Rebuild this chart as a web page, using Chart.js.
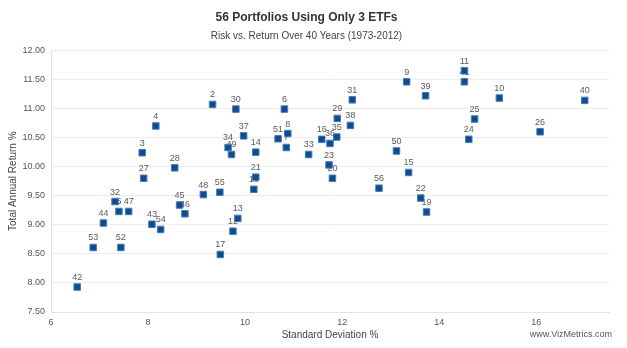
<!DOCTYPE html>
<html>
<head>
<meta charset="utf-8">
<script src="https://cdn.jsdelivr.net/npm/chart.js@4"></script>
<style>
    html, body { margin: 0; padding: 0; background: #fff; }
    #wrap { width: 627px; height: 348px; }
</style>
</head>
<body>
<div id="wrap"><canvas id="riskChart" width="627" height="348"></canvas></div>
<script>
// portfolio numbers, std deviation (x) and annual return (y)
const portfolioIds = [2, 3, 4, 5, 6, 7, 8, 9, 10, 11, 12, 13, 14, 15, 16, 17, 18, 19, 20, 21,
    22, 23, 24, 25, 26, 27, 28, 29, 30, 31, 32, 33, 34, 35, 36, 37, 38, 39, 40, 41,
    42, 43, 44, 45, 46, 47, 48, 49, 50, 51, 52, 53, 54, 55, 56];
const stdDevs = [9.33, 7.88, 8.16, 7.40, 10.81, 10.85, 10.88, 13.33, 15.24, 14.52, 9.75, 9.85, 10.22, 13.37, 11.58, 9.49, 10.18, 13.74, 11.80, 10.22,
    13.62, 11.73, 14.61, 14.73, 16.08, 7.91, 8.55, 11.90, 9.81, 12.21, 7.32, 11.31, 9.65, 11.89, 11.75, 9.97, 12.17, 13.72, 17.00, 14.52,
    6.54, 8.08, 7.08, 8.65, 8.76, 7.60, 9.14, 9.72, 13.12, 10.68, 7.44, 6.87, 8.26, 9.48, 12.76];
const annualReturns = [11.07, 10.24, 10.70, 9.23, 10.99, 10.33, 10.57, 11.46, 11.18, 11.65, 8.89, 9.11, 10.25, 9.90, 10.47, 8.49, 9.61, 9.22, 9.80, 9.82,
    9.46, 10.03, 10.47, 10.82, 10.60, 9.80, 9.98, 10.83, 10.99, 11.15, 9.40, 10.21, 10.33, 10.51, 10.40, 10.53, 10.71, 11.22, 11.14, 11.46,
    7.93, 9.01, 9.03, 9.34, 9.19, 9.23, 9.52, 10.21, 10.27, 10.48, 8.61, 8.61, 8.92, 9.56, 9.63];
const xTicks = [6, 8, 10, 12, 14, 16];

const FONT = "'Liberation Sans', Arial, sans-serif";

// number above every marker
const pointLabels = {
    id: 'pointLabels',
    beforeDatasetsDraw(chart) {
        const ctx = chart.ctx;
        const meta = chart.getDatasetMeta(0);
        ctx.save();
        ctx.font = '9px ' + FONT;
        ctx.fillStyle = '#5a5a5a';
        ctx.textAlign = 'center';
        ctx.textBaseline = 'bottom';
        meta.data.forEach((pt, i) => {
            ctx.fillText(String(portfolioIds[i]), pt.x, pt.y - 5);
        });
        ctx.restore();
    }
};

// site credit bottom right
const credit = {
    id: 'credit',
    afterDraw(chart) {
        const ctx = chart.ctx;
        ctx.save();
        ctx.font = '9px ' + FONT;
        ctx.fillStyle = '#555';
        ctx.textAlign = 'right';
        ctx.textBaseline = 'middle';
        ctx.fillText('www.VizMetrics.com', 612, 335);
        ctx.restore();
    }
};

const points = stdDevs.map((x, i) => ({ x: x, y: annualReturns[i] }));

new Chart(document.getElementById('riskChart').getContext('2d'), {
    type: 'scatter',
    data: {
        datasets: [{
            data: points,
            pointStyle: 'rect',
            pointRadius: 4.6,
            pointHoverRadius: 4.6,
            backgroundColor: '#0d4c92',
            borderColor: '#4a7bb3',
            borderWidth: 1
        }]
    },
    options: {
        responsive: false,
        animation: false,
        layout: { padding: { left: 4, right: 18, top: 4, bottom: 7 } },
        plugins: {
            legend: { display: false },
            tooltip: { enabled: false },
            title: {
                display: true,
                text: '56 Portfolios Using Only 3 ETFs',
                color: '#333',
                font: { family: FONT, size: 12, weight: 'bold' },
                padding: { top: 6, bottom: 6 }
            },
            subtitle: {
                display: true,
                text: 'Risk vs. Return Over 40 Years (1973-2012)',
                color: '#444',
                font: { family: FONT, size: 10 },
                padding: { bottom: 8 }
            }
        },
        scales: {
            x: {
                type: 'linear',
                min: 6,
                max: 17.5,
                afterBuildTicks(scale) {
                    scale.ticks = xTicks.map(v => ({ value: v }));
                },
                grid: { display: false, drawTicks: false },
                border: { color: '#e3e3e3' },
                ticks: {
                    color: '#555',
                    font: { family: FONT, size: 9 },
                    padding: 5
                },
                title: {
                    display: true,
                    text: 'Standard Deviation %',
                    color: '#444',
                    font: { family: FONT, size: 10 },
                    padding: { top: 2, bottom: 0 }
                },
                afterFit(scale) { scale.height = 29; }
            },
            y: {
                min: 7.5,
                max: 12,
                ticks: {
                    stepSize: 0.5,
                    color: '#555',
                    font: { family: FONT, size: 9 },
                    padding: 6,
                    callback: v => v.toFixed(2)
                },
                grid: { color: '#ececec', drawTicks: false },
                border: { color: '#e3e3e3' },
                title: {
                    display: true,
                    text: 'Total Annual Return %',
                    color: '#444',
                    font: { family: FONT, size: 10 },
                    padding: { top: 3, bottom: 4 }
                },
                afterFit(scale) { scale.width = 47; }
            }
        }
    },
    plugins: [pointLabels, credit]
});
</script>
</body>
</html>
